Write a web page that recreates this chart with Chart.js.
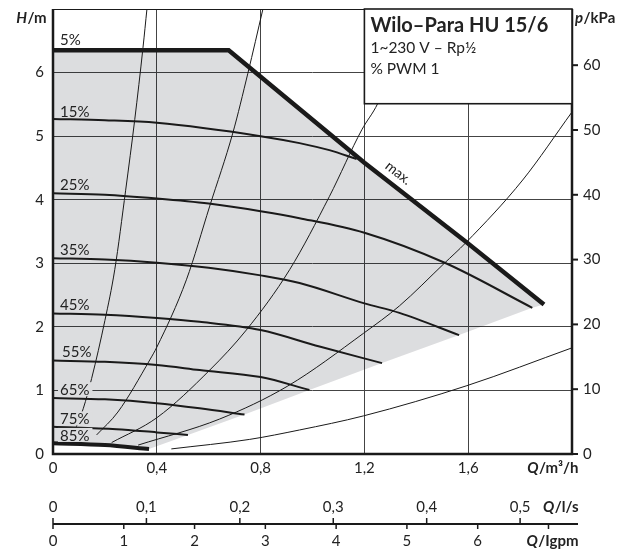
<!DOCTYPE html>
<html>
<head>
<meta charset="utf-8">
<script src="https://cdn.jsdelivr.net/npm/chart.js@4.4.1/dist/chart.umd.min.js"></script>
<style>
  html, body { margin: 0; padding: 0; background: #fff; }
  #wrap { position: relative; width: 633px; height: 553px; }
</style>
</head>
<body>
<div id="wrap"><canvas id="pumpChart"></canvas></div>
<script>
// Kennlinien Wilo-Para HU 15/6, Q in m³/h, H in m
const qMax = [0, 0.677, 1.2, 1.591, 1.892];
const hMax = [6.35, 6.35, 4.58, 3.34, 2.35];

const q15 = [0, 0.2, 0.4, 0.8, 0.95, 1.065, 1.17];
const h15 = [5.27, 5.25, 5.21, 5.0, 4.89, 4.78, 4.64];
const q25 = [0, 0.2, 0.4, 0.6, 0.8, 0.95, 1.2, 1.514, 1.847];
const h25 = [4.10, 4.08, 4.02, 3.94, 3.82, 3.71, 3.48, 3.0, 2.30];
const q35 = [0, 0.2, 0.4, 0.6, 0.8, 0.95, 1.2, 1.335, 1.565];
const h35 = [3.08, 3.06, 3.01, 2.93, 2.81, 2.69, 2.37, 2.22, 1.87];
const q45 = [0, 0.2, 0.4, 0.565, 0.8, 1.027, 1.268];
const h45 = [2.21, 2.19, 2.14, 2.08, 1.95, 1.69, 1.43];
const q55 = [0, 0.2, 0.4, 0.565, 0.8, 0.988];
const h55 = [1.47, 1.45, 1.40, 1.32, 1.21, 1.007];
const q65 = [0, 0.2, 0.4, 0.565, 0.738];
const h65 = [0.88, 0.86, 0.80, 0.72, 0.62];
const q75 = [0, 0.245, 0.4, 0.52];
const h75 = [0.43, 0.39, 0.34, 0.30];
const q85 = [0, 0.2, 0.37];
const h85 = [0.17, 0.14, 0.08];

// untere Grenze der grauen Fläche (Enden der Kennlinien)
const qLow = [0.37, 0.52, 0.738, 0.988, 1.268, 1.565, 1.847, 1.892];
const hLow = [0.08, 0.30, 0.62, 1.007, 1.43, 1.87, 2.30, 2.35];

// Anlagenkennlinien (dünn)
const qSys1 = [0.06, 0.09, 0.117, 0.149, 0.2, 0.238, 0.28, 0.315, 0.347, 0.362];
const hSys1 = [0.19, 0.43, 0.72, 1.19, 2.1, 2.9, 4.15, 5.26, 6.4, 7.0];
const qSys2 = [0.168, 0.25, 0.373, 0.4, 0.514, 0.604, 0.693, 0.751, 0.809];
const hSys2 = [0.30, 0.66, 1.48, 1.68, 2.74, 3.9, 5.05, 5.99, 7.0];
const qSys3 = [0.226, 0.4, 0.604, 0.745, 0.912, 1.065, 1.19, 1.251, 1.40];
const hSys3 = [0.18, 0.57, 1.32, 1.95, 2.90, 4.05, 5.10, 5.51, 7.0];
const qSys4 = [0.328, 0.642, 0.905, 1.197, 1.335, 1.508, 1.59, 1.81, 2.0];
const hSys4 = [0.14, 0.55, 1.07, 1.90, 2.33, 3.0, 3.32, 4.31, 5.38];
const qSys5 = [0.456, 0.758, 0.95, 1.197, 1.595, 2.0];
const hSys5 = [0.08, 0.23, 0.378, 0.60, 1.075, 1.67];

// Achsen
const qTicks = [0, 0.4, 0.8, 1.2, 1.6];
const qTickLabels = ['0', '0,4', '0,8', '1,2', '1,6'];
const hTicks = [0, 1, 2, 3, 4, 5, 6];
const pTicks = [0, 10, 20, 30, 40, 50, 60];
const lsTicks = [0, 0.1, 0.2, 0.3, 0.4, 0.5];
const lsTickLabels = ['0', '0,1', '0,2', '0,3', '0,4', '0,5'];
const igpmTicks = [0, 1, 2, 3, 4, 5, 6, 7];
const igpmTickLabels = ['0', '1', '2', '3', '4', '5', '6', ''];
const pctLabels = ['5%', '15%', '25%', '35%', '45%', '55%', '65%', '75%', '85%'];

const KPA_PER_M = 9.81;
const M3H_PER_LS = 3.6;
const M3H_PER_IGPM = 0.272765;

const FONT = 'Lato, "Noto Sans", sans-serif';
const GRAY = '#dcdddf';
const INK = '#1a1a1a';

function pts(qs, hs) {
    return qs.map((q, i) => ({ x: q, y: hs[i] }));
}

// graue Fläche: max-Kurve, untere Grenze zurück, 85%-Kurve zurück
const areaPts = pts(qMax, hMax)
    .concat(pts(qLow, hLow).reverse().slice(1))
    .concat(pts(q85, h85).reverse().slice(1));

function sysLine(qs, hs) {
    return {
        data: pts(qs, hs), borderColor: INK, borderWidth: 1,
        cubicInterpolationMode: 'monotone', pointRadius: 0, fill: false, order: 5
    };
}
function pumpLine(qs, hs, w) {
    return {
        data: pts(qs, hs), borderColor: INK, borderWidth: w || 2,
        cubicInterpolationMode: 'monotone', pointRadius: 0, fill: false, order: 3
    };
}

function lerp(qs, hs, q) {
    for (let i = 1; i < qs.length; i++) {
        if (q <= qs[i]) {
            const t = (q - qs[i - 1]) / (qs[i] - qs[i - 1]);
            return hs[i - 1] + t * (hs[i] - hs[i - 1]);
        }
    }
    return hs[hs.length - 1];
}

// Text mit kursivem Formelzeichen und fettem Einheitenteil
function unitLabel(ctx, sym, unit, x, y, align) {
    ctx.font = 'italic bold 15px ' + FONT;
    const w1 = ctx.measureText(sym).width;
    ctx.font = 'bold 15px ' + FONT;
    const w2 = ctx.measureText(unit).width;
    const x0 = align === 'right' ? x - w1 - w2 : x;
    ctx.textAlign = 'left';
    ctx.font = 'italic bold 15px ' + FONT;
    ctx.fillText(sym, x0, y);
    ctx.font = 'bold 15px ' + FONT;
    ctx.fillText(unit, x0 + w1 + 0.5, y);
}

const decorPlugin = {
    id: 'pumpDecor',
    afterDraw: (chart) => {
        const ctx = chart.ctx;
        const xs = chart.scales.x;
        const ys = chart.scales.y;
        const ps = chart.scales.y2;
        const a = chart.chartArea;

        ctx.save();
        ctx.fillStyle = '#222';
        ctx.textBaseline = 'middle';

        // Kurvenbeschriftungen
        const labelH = [6.53, 5.40, 4.25, 3.23, 2.35, 1.61, 1.02, 0.56, 0.30];
        ctx.font = '15px ' + FONT;
        pctLabels.forEach((txt, i) => {
            const lx = a.left + (i === 5 ? 9 : 7);
            const ly = ys.getPixelForValue(labelH[i]);
            const w = ctx.measureText(txt).width;
            ctx.fillStyle = i === 0 ? '#fff' : GRAY;
            ctx.fillRect(lx - 2, ly - 7, w + 5, 14);
            ctx.fillStyle = '#222';
            ctx.textAlign = 'left';
            ctx.fillText(txt, lx, ly + 1);
        });

        // "max." entlang der Kennlinie
        const x1 = xs.getPixelForValue(qMax[2]), y1 = ys.getPixelForValue(hMax[2]);
        const x2 = xs.getPixelForValue(qMax[4]), y2 = ys.getPixelForValue(hMax[4]);
        const ang = Math.atan2(y2 - y1, x2 - x1);
        const mx = xs.getPixelForValue(1.3);
        const my = ys.getPixelForValue(lerp(qMax, hMax, 1.3));
        ctx.save();
        ctx.translate(mx + 8, my - 10);
        ctx.rotate(ang);
        ctx.font = '14px ' + FONT;
        ctx.textAlign = 'center';
        ctx.fillText('max.', 0, 0);
        ctx.restore();

        // Rahmen
        ctx.strokeStyle = INK;
        ctx.lineWidth = 1.2;
        ctx.beginPath();
        ctx.moveTo(a.left, a.top + 0.5);
        ctx.lineTo(a.right, a.top + 0.5);
        ctx.stroke();
        ctx.lineWidth = 2.5;
        ctx.beginPath();
        ctx.moveTo(a.left, a.top);
        ctx.lineTo(a.left, a.bottom);
        ctx.lineTo(a.right, a.bottom);
        ctx.lineTo(a.right, a.top);
        ctx.stroke();

        // Typenfeld
        const bx = xs.getPixelForValue(1.2);
        const by = ys.getPixelForValue(5.51);
        ctx.fillStyle = '#fff';
        ctx.fillRect(bx, a.top, a.right - bx, by - a.top);
        ctx.lineWidth = 1.6;
        ctx.strokeRect(bx, a.top, a.right - bx, by - a.top);
        ctx.fillStyle = '#222';
        ctx.textAlign = 'left';
        ctx.textBaseline = 'alphabetic';
        ctx.font = 'bold 20px ' + FONT;
        ctx.fillText('Wilo–Para HU 15/6', bx + 6, a.top + 23);
        ctx.font = '15.5px ' + FONT;
        ctx.fillText('1~230 V – Rp½', bx + 6, a.top + 44);
        ctx.fillText('% PWM 1', bx + 6, a.top + 65);

        // linke Achse H/m
        ctx.textBaseline = 'middle';
        ctx.font = '15px ' + FONT;
        ctx.textAlign = 'right';
        hTicks.forEach((v) => {
            ctx.fillText(String(v), a.left - 9, ys.getPixelForValue(v));
        });
        unitLabel(ctx, 'H', '/m', a.left - 7, a.top + 9, 'right');

        // rechte Achse p/kPa
        ctx.lineWidth = 2;
        pTicks.forEach((v) => {
            const py = ps.getPixelForValue(v);
            ctx.beginPath();
            ctx.moveTo(a.right, py);
            ctx.lineTo(a.right + 6, py);
            ctx.stroke();
            ctx.font = '15px ' + FONT;
            ctx.textAlign = 'left';
            ctx.fillText(String(v), a.right + 11, py);
        });
        unitLabel(ctx, 'p', '/kPa', a.right + 3, a.top + 9, 'left');

        // Q/m³/h
        ctx.font = '15px ' + FONT;
        ctx.textAlign = 'center';
        qTicks.forEach((v, i) => {
            ctx.fillText(qTickLabels[i], xs.getPixelForValue(v), a.bottom + 14);
        });
        unitLabel(ctx, 'Q', '/m³/h', a.right + 6, a.bottom + 14, 'right');

        // Q/l/s und Q/Igpm
        const axY = a.bottom + 70;
        const axRight = a.right + 6;
        ctx.lineWidth = 2;
        ctx.beginPath();
        ctx.moveTo(a.left, axY);
        ctx.lineTo(axRight, axY);
        ctx.stroke();
        ctx.lineWidth = 1.5;
        lsTicks.forEach((v, i) => {
            const px = xs.getPixelForValue(v * M3H_PER_LS);
            ctx.beginPath();
            ctx.moveTo(px, axY - 6);
            ctx.lineTo(px, axY);
            ctx.stroke();
            ctx.font = '15px ' + FONT;
            ctx.textAlign = 'center';
            ctx.fillText(lsTickLabels[i], px, axY - 17);
        });
        igpmTicks.forEach((v, i) => {
            const px = xs.getPixelForValue(v * M3H_PER_IGPM);
            ctx.beginPath();
            ctx.moveTo(px, axY);
            ctx.lineTo(px, axY + 5);
            ctx.stroke();
            ctx.font = '15px ' + FONT;
            ctx.textAlign = 'center';
            if (igpmTickLabels[i]) ctx.fillText(igpmTickLabels[i], px, axY + 17);
        });
        unitLabel(ctx, 'Q', '/l/s', axRight, axY - 17, 'right');
        unitLabel(ctx, 'Q', '/Igpm', axRight, axY + 17, 'right');

        ctx.restore();
    }
};

Chart.defaults.font.family = FONT;

new Chart(document.getElementById('pumpChart'), {
    type: 'line',
    data: {
        datasets: [
            {
                data: areaPts, borderWidth: 0, borderColor: 'rgba(0,0,0,0)',
                backgroundColor: 'rgba(0, 7, 21, 0.137)', fill: 'shape',
                tension: 0, pointRadius: 0, order: 10
            },
            sysLine(qSys1, hSys1),
            sysLine(qSys2, hSys2),
            sysLine(qSys3, hSys3),
            sysLine(qSys4, hSys4),
            sysLine(qSys5, hSys5),
            pumpLine(q15, h15),
            pumpLine(q25, h25),
            pumpLine(q35, h35),
            pumpLine(q45, h45),
            pumpLine(q55, h55),
            pumpLine(q65, h65),
            pumpLine(q75, h75),
            { data: pts(q85, h85), borderColor: INK, borderWidth: 4, tension: 0.3, pointRadius: 0, fill: false, order: 2 },
            { data: pts(qMax, hMax), borderColor: INK, borderWidth: 4.5, tension: 0, pointRadius: 0, fill: false, order: 1, borderJoinStyle: 'miter' }
        ]
    },
    options: {
        responsive: true,
        maintainAspectRatio: false,
        animation: false,
        events: [],
        plugins: {
            legend: { display: false },
            tooltip: { enabled: false }
        },
        layout: {
            padding: { left: 53, right: 61, top: 9, bottom: 99 }
        },
        scales: {
            x: {
                type: 'linear', min: 0, max: 2,
                ticks: { display: false, stepSize: 0.4 },
                grid: { color: '#444', lineWidth: 1, drawTicks: false },
                border: { display: false }
            },
            y: {
                type: 'linear', position: 'left', min: 0, max: 7,
                ticks: { display: false, stepSize: 1 },
                grid: { color: '#444', lineWidth: 1, drawTicks: false },
                border: { display: false }
            },
            y2: {
                type: 'linear', position: 'right', min: 0, max: 7 * KPA_PER_M,
                ticks: { display: false },
                grid: { display: false, drawTicks: false },
                border: { display: false }
            }
        }
    },
    plugins: [decorPlugin]
});
</script>
</body>
</html>
